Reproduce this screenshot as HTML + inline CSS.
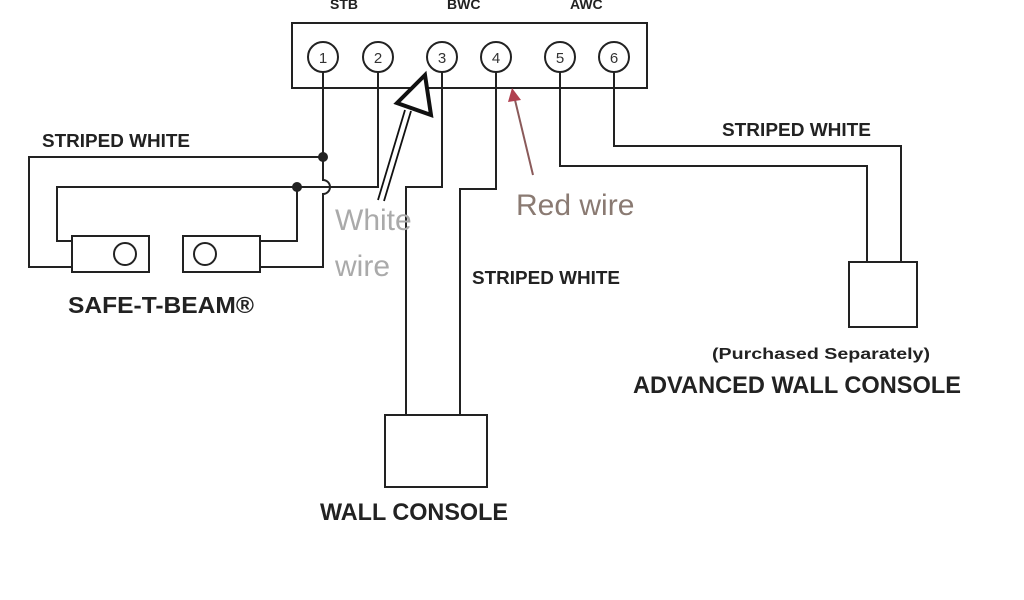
<!DOCTYPE html>
<html><head><style>
html,body{margin:0;padding:0;background:#fff;}
svg{display:block;}
.b{font-family:"Liberation Sans",sans-serif;font-weight:bold;fill:#222;}
.n{font-family:"Liberation Sans",sans-serif;font-size:15px;fill:#333;text-anchor:middle;}
</style></head><body>
<svg width="1024" height="600" viewBox="0 0 1024 600" xmlns="http://www.w3.org/2000/svg">
<g fill="none" stroke="#222" stroke-width="2">
<rect x="292" y="23" width="355" height="65"/>
<circle cx="323" cy="57" r="15"/>
<circle cx="378" cy="57" r="15"/>
<circle cx="442" cy="57" r="15"/>
<circle cx="496" cy="57" r="15"/>
<circle cx="560" cy="57" r="15"/>
<circle cx="614" cy="57" r="15"/>
<polyline points="323,72 323,157 29,157 29,267 72,267"/>
<path d="M323,157 L323,180 A7,7 0 0 1 323,194 L323,267 L260,267"/>
<polyline points="378,72 378,187 57,187 57,241 72,241"/>
<polyline points="297,187 297,241 260,241"/>
<rect x="72" y="236" width="77" height="36"/>
<rect x="183" y="236" width="77" height="36"/>
<circle cx="125" cy="254" r="11"/>
<circle cx="205" cy="254" r="11"/>
<polyline points="442,72 442,187 406,187 406,415"/>
<polyline points="496,72 496,189 460,189 460,415"/>
<rect x="385" y="415" width="102" height="72"/>
<polyline points="560,72 560,166 867,166 867,262"/>
<polyline points="614,72 614,146 901,146 901,262"/>
<rect x="849" y="262" width="68" height="65"/>
</g>
<text x="323" y="63" class="n">1</text>
<text x="378" y="63" class="n">2</text>
<text x="442" y="63" class="n">3</text>
<text x="496" y="63" class="n">4</text>
<text x="560" y="63" class="n">5</text>
<text x="614" y="63" class="n">6</text>
<circle cx="323" cy="157" r="5" fill="#222"/>
<circle cx="297" cy="187" r="5" fill="#222"/>
<g stroke="#111" fill="none">
<line x1="378" y1="200" x2="405" y2="110" stroke-width="1.8"/>
<line x1="384" y1="201" x2="411" y2="111" stroke-width="1.8"/>
<polygon points="425,75 397,103 431,115" stroke-width="4" fill="#fff"/>
</g>
<line x1="533" y1="175" x2="515" y2="100" stroke="#8a5a5a" stroke-width="2"/>
<polygon points="512,88 508,102 521,100" fill="#b04050"/>
<text x="42" y="147" class="b" font-size="18" textLength="148" lengthAdjust="spacingAndGlyphs">STRIPED WHITE</text>
<text x="722" y="136" class="b" font-size="18" textLength="149" lengthAdjust="spacingAndGlyphs">STRIPED WHITE</text>
<text x="472" y="284" class="b" font-size="18" textLength="148" lengthAdjust="spacingAndGlyphs">STRIPED WHITE</text>
<text x="68" y="313" class="b" font-size="23" textLength="186" lengthAdjust="spacingAndGlyphs">SAFE-T-BEAM®</text>
<text x="712" y="359" class="b" font-size="16" textLength="218" lengthAdjust="spacingAndGlyphs">(Purchased Separately)</text>
<text x="633" y="393" class="b" font-size="24" textLength="328" lengthAdjust="spacingAndGlyphs">ADVANCED WALL CONSOLE</text>
<text x="320" y="520" class="b" font-size="24" textLength="188" lengthAdjust="spacingAndGlyphs">WALL CONSOLE</text>
<text x="330" y="9" class="b" font-size="14">STB</text>
<text x="447" y="9" class="b" font-size="14">BWC</text>
<text x="570" y="9" class="b" font-size="14">AWC</text>
<text x="335" y="230" font-family="Liberation Sans,sans-serif" font-size="30" fill="#aaa">White</text>
<text x="335" y="276" font-family="Liberation Sans,sans-serif" font-size="30" fill="#aaa">wire</text>
<text x="516" y="215" font-family="Liberation Sans,sans-serif" font-size="30" fill="#8a7a72">Red wire</text>
</svg>
</body></html>
